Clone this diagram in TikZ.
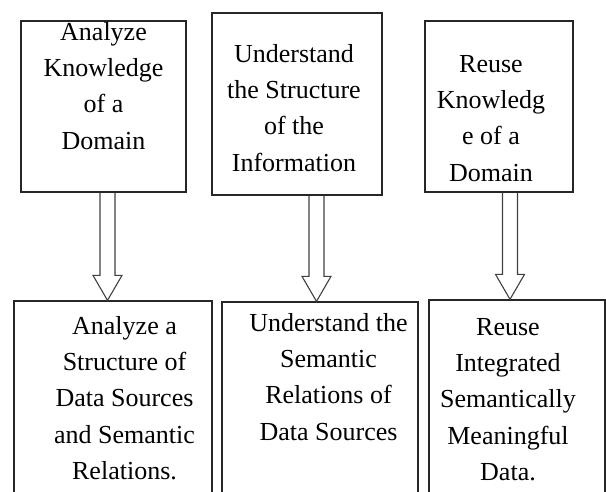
\documentclass[tikz,border=0pt]{standalone}
\usepackage{fontspec}
\setmainfont{Liberation Serif}
\usetikzlibrary{calc}

\tikzset{
  stepbox/.style={draw=black!85, line width=1.3pt, inner sep=0pt},
  steptext/.style={inner sep=0pt, anchor=north, align=center, font=\fontsize{26}{36.3}\selectfont},
  hollowarrow/.style={draw=black!75, line width=1.1pt, line join=miter},
}

\begin{document}
\begin{tikzpicture}[x=1pt,y=-1pt]
\useasboundingbox (0,0) rectangle (606,491);
\clip (0,0) rectangle (606,491);

%Top boxes
\node[stepbox, minimum width=165, minimum height=171] (top1) at (103.5,106.5) {};
\node[stepbox, minimum width=170, minimum height=182] (top2) at (297,104) {};
\node[stepbox, minimum width=148, minimum height=171] (top3) at (499,106.5) {};

%Bottom boxes (run off the page)
\node[stepbox, minimum width=198, minimum height=230] (bot1) at (113,416) {};
\node[stepbox, minimum width=196, minimum height=228] (bot2) at (320,416) {};
\node[stepbox, minimum width=176, minimum height=230] (bot3) at (517,415) {};

%Texts
\node[steptext] (top1-t) at (103.5,22) {Analyze\\Knowledge\\of a\\Domain};
\node[steptext] (top2-t) at (294,44) {Understand\\the Structure\\of the\\Information};
\node[steptext] (top3-t) at (491,55) {Reuse\\Knowledg\\e of a\\Domain};
\node[steptext] (bot1-t) at (124.5,316) {Analyze a\\Structure of\\Data Sources\\and Semantic\\Relations.};
\node[steptext] (bot2-t) at (328.5,313) {Understand the\\Semantic\\Relations of\\Data Sources};
\node[steptext] (bot3-t) at (508,318) {Reuse\\Integrated\\Semantically\\Meaningful\\Data.};

%Arrow axes
\coordinate (x1) at (107.5,0);
\coordinate (x2) at (316.5,0);
\coordinate (x3) at (510,0);

%Hollow arrows
\foreach \t/\b/\x in {top1/bot1/x1, top2/bot2/x2, top3/bot3/x3}
  \draw[hollowarrow] ($(\t.south -| \x)+(-7.5,0)$) -- ($(\b.north -| \x)+(-7.5,-25)$) -- ++(-7,0) -- (\b.north -| \x) -- ++(14.5,-25) -- ++(-7,0) -- ($(\t.south -| \x)+(7.5,0)$) ;

\end{tikzpicture}
\end{document}
